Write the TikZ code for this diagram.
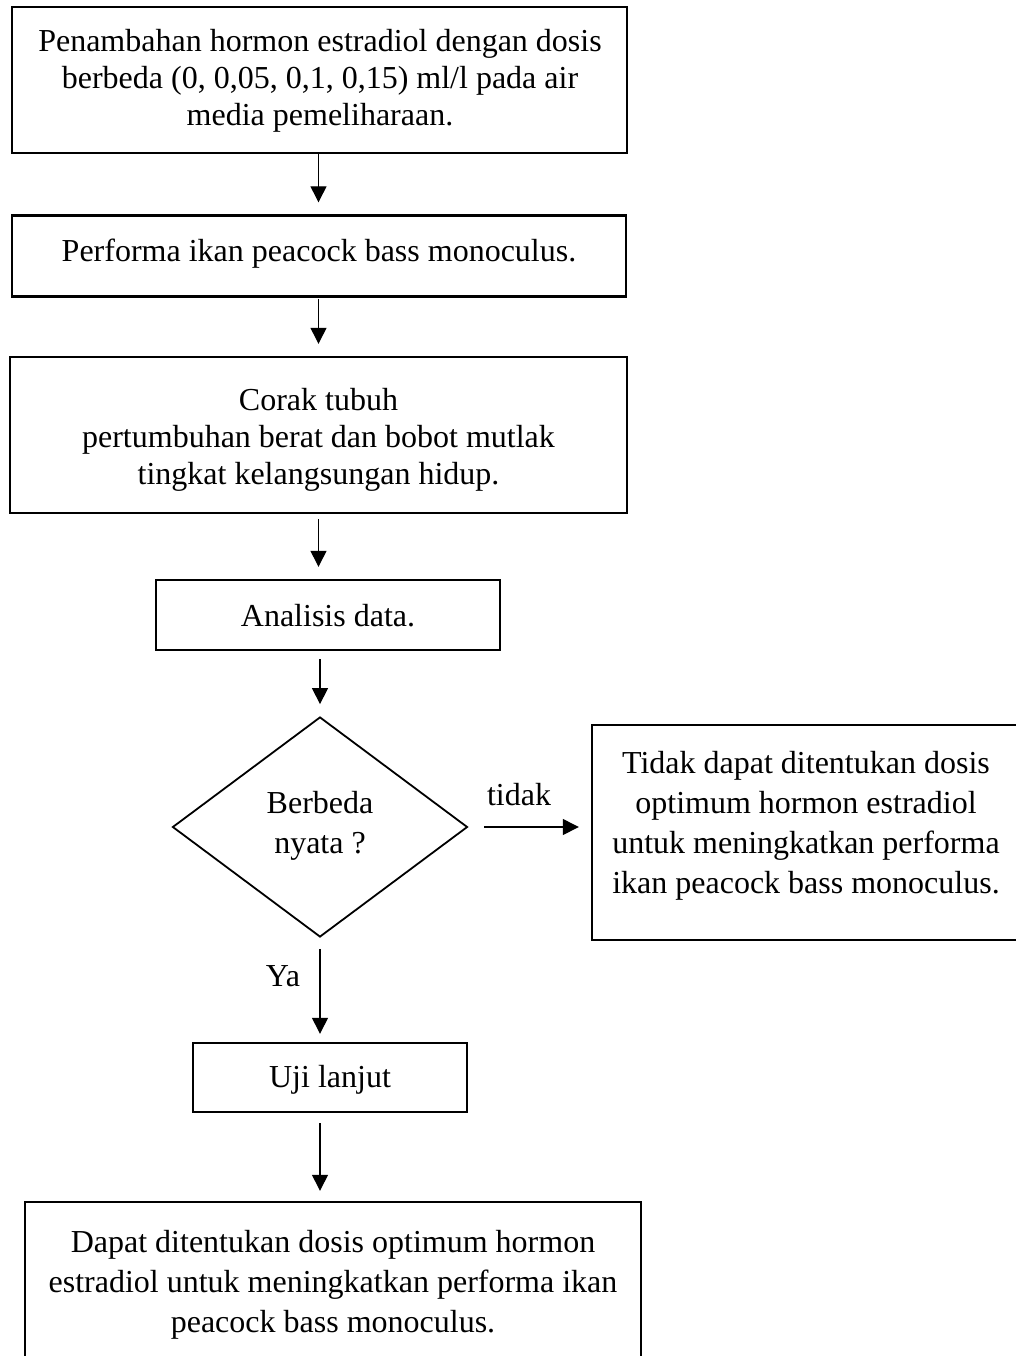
\documentclass[tikz,border=0pt]{standalone}
\usepackage{fontspec}
\setmainfont{Liberation Serif}
\usetikzlibrary{shapes.geometric,arrows.meta}
\begin{document}
\begin{tikzpicture}[x=1pt,y=-1pt,
  box/.style={draw, line width=2.4pt, inner sep=0pt},
  txt/.style={align=center, font=\fontsize{32}{37}\selectfont, inner sep=0pt},
  txtw/.style={align=center, font=\fontsize{32}{40}\selectfont, inner sep=0pt},
  arr/.style={line width=1.3pt, -{Triangle[width=16pt,length=16pt]}},
  dec/.style={draw, diamond, aspect=1.34, line width=1.8pt, minimum width=295pt, minimum height=220pt, inner sep=0pt}]
\useasboundingbox (0,0) rectangle (1016,1356);
\clip (0,0) rectangle (1016,1356);
\fill[white] (0,0) rectangle (1016,1356);

\node[box, minimum width=615pt, minimum height=146pt] (b1) at (319.5,80) {};
\node[txt] (t1) at (320,81) {Penambahan hormon estradiol dengan dosis\\berbeda (0, 0,05, 0,1, 0,15) ml/l pada air\\media pemeliharaan.};

\node[box, minimum width=614pt, minimum height=81pt] (b2) at (319,256) {};
\node[txt] (t2) at (319,254) {Performa ikan peacock bass monoculus.};

\node[box, minimum width=617pt, minimum height=156pt] (b3) at (318.5,435) {};
\node[txt] (t3) at (318.5,440) {Corak tubuh\\pertumbuhan berat dan bobot mutlak\\tingkat kelangsungan hidup.};

\node[box, minimum width=344pt, minimum height=70pt] (b4) at (328,615) {};
\node[txt] (t4) at (328,616) {Analisis data.};

\node[dec] (d) at (320,827) {};
\node[txtw] (td) at (320,826) {Berbeda\\nyata ?};

\node[box, minimum width=428pt, minimum height=215pt] (r) at (806,832.5) {};
\node[txtw] (tr) at (806,826) {Tidak dapat ditentukan dosis\\optimum hormon estradiol\\untuk meningkatkan performa\\ikan peacock bass monoculus.};

\node[box, minimum width=274pt, minimum height=69pt] (u) at (330,1077.5) {};
\node[txt] (tu) at (330,1080) {Uji lanjut};

\node[box, minimum width=616pt, minimum height=220pt] (f) at (333,1312) {};
\node[txtw] (tf) at (333,1285) {Dapat ditentukan dosis optimum hormon\\estradiol untuk meningkatkan performa ikan\\peacock bass monoculus.};

\node[txt] (lt) at (519,795) {tidak};
\node[txt] (ly) at (283,976) {Ya};

\draw[arr, shorten >=12pt] (b1.south -| b3.south) -- (b3.south |- b2.north);
\draw[arr, shorten <=1pt, shorten >=12pt] (b3.south |- b2.south) -- (b3.north);
\draw[arr, shorten <=5pt, shorten >=12pt] (b3.south) -- (b3.south |- b4.north);
\draw[arr, shorten <=8pt, shorten >=12pt] (d.north |- b4.south) -- (d.north);
\draw[arr, shorten <=16pt, shorten >=12pt] (d.east) -- (d.east -| r.west);
\draw[arr, shorten <=11pt, shorten >=8pt] (d.south) -- (d.south |- u.north);
\draw[arr, shorten <=10pt, shorten >=10pt] (d.south |- u.south) -- (d.south |- f.north);
\end{tikzpicture}
\end{document}
